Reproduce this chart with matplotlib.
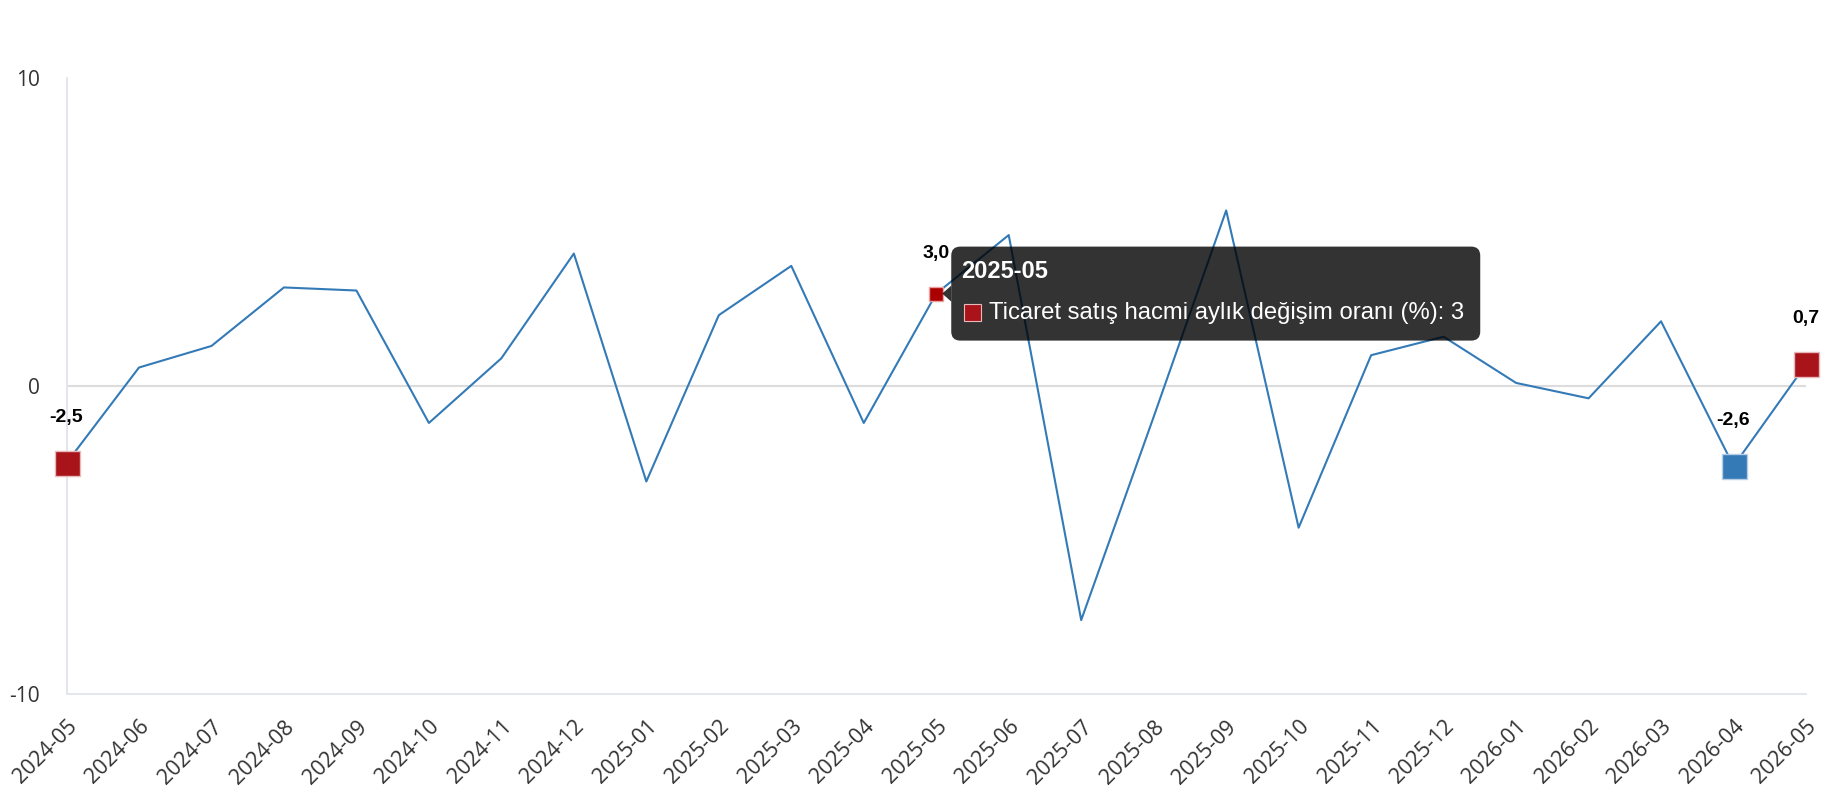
import matplotlib
matplotlib.use("Agg")
import matplotlib.pyplot as plt
from matplotlib.patches import FancyBboxPatch, Polygon, Rectangle
from matplotlib.transforms import IdentityTransform

# monthly change of trade sales volume (%)
months = [
    "2024-05", "2024-06", "2024-07", "2024-08", "2024-09", "2024-10", "2024-11",
    "2024-12", "2025-01", "2025-02", "2025-03", "2025-04", "2025-05", "2025-06",
    "2025-07", "2025-08", "2025-09", "2025-10", "2025-11", "2025-12", "2026-01",
    "2026-02", "2026-03", "2026-04", "2026-05",
]
values = [
    -2.5, 0.6, 1.3, 3.2, 3.1, -1.2, 0.9, 4.3, -3.1, 2.3, 3.9, -1.2, 3.0,
    4.9, -7.6, -1.0, 5.7, -4.6, 1.0, 1.6, 0.1, -0.4, 2.1, -2.6, 0.7,
]
red_points = ["2024-05", "2026-05"]
blue_points = ["2026-04"]
labelled = ["2024-05", "2025-05", "2026-04", "2026-05"]
hover_month = "2025-05"
series_name = "Ticaret satış hacmi aylık değişim oranı (%)"
y_ticks = [-10, 0, 10]

LINE = "#337ab7"
RED = "#a8141a"

W, H = 1830, 800
fig = plt.figure(figsize=(W / 100, H / 100), dpi=100)
ax = fig.add_axes([66.5 / W, 1 - 694 / H, (1806 - 66.5) / W, (694 - 78) / H])

x = list(range(len(months)))
ax.plot(x, values, color=LINE, lw=1.5, zorder=3, clip_on=False)
ax.axhline(0, color="#dcdcdc", lw=1.5, zorder=1)

for m in red_points:
    i = months.index(m)
    ax.plot(i, values[i], "s", ms=18, color=RED, mec="#e7b9bb", mew=1, zorder=4, clip_on=False)
for m in blue_points:
    i = months.index(m)
    ax.plot(i, values[i], "s", ms=18, color=LINE, mec="#b6cde3", mew=1, zorder=4, clip_on=False)
hi = months.index(hover_month)
ax.plot(hi, values[hi], "s", ms=9.5, color="#aa0000", mec="#e8a0a0", mew=1, zorder=4, clip_on=False)

for m in labelled:
    i = months.index(m)
    off = 29 if m == hover_month else 33
    ax.annotate(f"{values[i]:.1f}".replace(".", ","), (i, values[i]), xytext=(0, off),
                textcoords="offset points", ha="center", va="center",
                fontsize=14, fontweight="bold", family="Liberation Sans", color="black", zorder=5)

ax.set_xlim(0, len(months) - 1)
ax.set_ylim(-10, 10)
ax.set_yticks(y_ticks)
ax.set_yticklabels([str(t) for t in y_ticks], family="Open Sans", fontsize=15, color="#333333")
ax.set_xticks(x)
ax.set_xticklabels(months, rotation=45, ha="right", va="top", rotation_mode="anchor",
                   family="Open Sans", fontsize=15.5, color="#333333")
ax.tick_params(axis="y", length=0, pad=19)
ax.tick_params(axis="x", length=0, pad=16)
for s in ["top", "right"]:
    ax.spines[s].set_visible(False)
for s in ["left", "bottom"]:
    ax.spines[s].set_color("#e0e4ea")
    ax.spines[s].set_linewidth(1.3)

# tooltip for the hovered point, in pixel coordinates
px, py = ax.transData.transform((hi, values[hi]))
ident = IdentityTransform()
box = FancyBboxPatch((px + 15, py - 47), 529, 94, boxstyle="round,pad=0,rounding_size=9",
                     transform=ident, fc=(0, 0, 0, 0.8), ec="none", zorder=10)
fig.patches.append(box)
fig.patches.append(Polygon([(px + 15, py + 8), (px + 6, py), (px + 15, py - 8)], closed=True,
                           transform=ident, fc=(0, 0, 0, 0.8), ec="none", zorder=10))
fig.text(px + 25, py + 22, hover_month, transform=ident, ha="left", va="center",
         fontsize=17, fontweight="bold", family="Liberation Sans", color="white", zorder=11)
fig.patches.append(Rectangle((px + 28, py - 27), 17, 17, transform=ident, fc=RED,
                             ec="#e7b9bb", lw=0.8, zorder=11))
fig.text(px + 53, py - 19, f"{series_name}: {values[hi]:g}", transform=ident, ha="left",
         va="center", fontsize=17.2, family="Liberation Sans", color="white", zorder=11)

fig.savefig("out.png", dpi=100)
